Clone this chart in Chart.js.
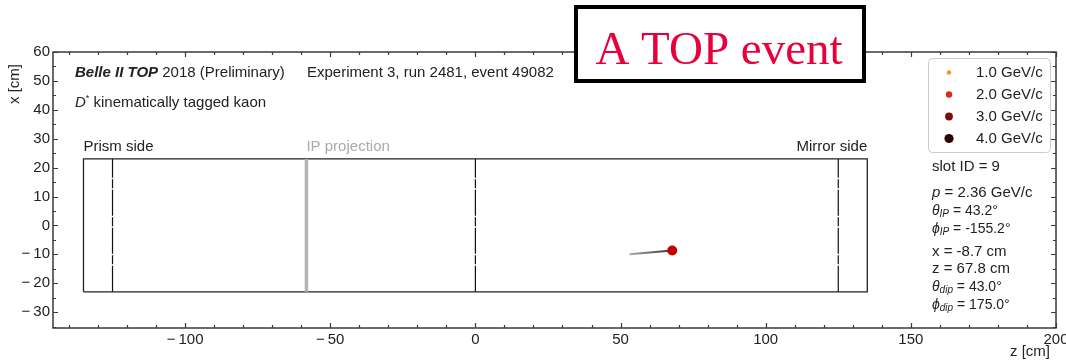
<!DOCTYPE html>
<html>
<head>
<meta charset="utf-8">
<script src="https://cdn.jsdelivr.net/npm/chart.js@4.4.1/dist/chart.umd.min.js"></script>
<style>
  html, body { margin: 0; padding: 0; background: #fff; }
  canvas { display: block; }
</style>
</head>
<body>
<canvas id="c" width="1066" height="361"></canvas>
<script>
// ---- axis ticks ----
const zMajorTicks = [-100, -50, 0, 50, 100, 150, 200];
const zMinorStep = 10;
const xMajorTicks = [-30, -20, -10, 0, 10, 20, 30, 40, 50, 60];
const xMinorStep = 5;

// ---- TOP module (quartz bar) geometry, cm ----
const barZ = [-135, 135];
const barX = [-23, 23];
const jointZ = [-125, 0, 125];
const ipProjectionZ = -58.2;

// ---- reconstructed track and hit ----
const trackZ = [53.1, 67.8];
const trackX = [-10.0, -8.7];
const hitZ = [67.8];
const hitX = [-8.7];

// ---- momentum legend ----
const legendMomenta = [1.0, 2.0, 3.0, 4.0];
const legendColors = ['#ff8f1f', '#e0261a', '#7f0a0a', '#2b0505'];

// ---- event info ----
const slotId = 9;
const momentum = 2.36;
const thetaIP = 43.2;
const phiIP = -155.2;
const hitXcm = -8.7;
const hitZcm = 67.8;
const thetaDip = 43.0;
const phiDip = 175.0;

const SANS = '"Liberation Sans", Arial, Helvetica, sans-serif';
const SERIF = '"Liberation Serif", "Times New Roman", serif';
const INK = '#222';

function pts(zs, xs) { return zs.map((z, i) => ({ x: z, y: xs[i] })); }

const datasets = [];
// bar outline
datasets.push({
  data: pts([barZ[0], barZ[1], barZ[1], barZ[0], barZ[0]], [barX[0], barX[0], barX[1], barX[1], barX[0]]),
  showLine: true, borderColor: '#222', borderWidth: 1.3, pointRadius: 0, order: 5
});
// glue joints between bar segments
jointZ.forEach(z => datasets.push({
  data: pts([z, z], barX),
  showLine: true, borderColor: '#111', borderWidth: 1.2, borderDash: [26, 1.5, 9, 1.5],
  pointRadius: 0, order: 4
}));
// IP projection
datasets.push({
  data: pts([ipProjectionZ, ipProjectionZ], barX),
  showLine: true, borderColor: '#b4b4b4', borderWidth: 3.5, pointRadius: 0, order: 3
});
// track
datasets.push({
  data: pts(trackZ, trackX),
  showLine: true, borderWidth: 2, pointRadius: 0, order: 2,
  borderColor: (c) => {
    const ch = c.chart;
    if (!ch.chartArea) return '#777';
    const xs = ch.scales.x;
    const g = ch.ctx.createLinearGradient(xs.getPixelForValue(trackZ[0]), 0, xs.getPixelForValue(trackZ[1]), 0);
    g.addColorStop(0, '#a8a8a8');
    g.addColorStop(1, '#333333');
    return g;
  }
});
// hit
datasets.push({
  data: pts(hitZ, hitX),
  showLine: false, pointRadius: 5, pointBackgroundColor: '#c40000',
  pointBorderColor: '#c40000', pointBorderWidth: 0, order: 1
});

function fmt(v) { return v < 0 ? '\u2212\u2009' + Math.abs(v) : String(v); }

// draw a sequence of styled text runs starting at x
function runs(ctx, x, y, parts, align) {
  ctx.textBaseline = 'middle';
  ctx.textAlign = 'left';
  let w = 0;
  parts.forEach(p => { ctx.font = p.font; w += ctx.measureText(p.t).width; });
  let cx = align === 'right' ? x - w : x;
  parts.forEach(p => {
    ctx.font = p.font;
    ctx.fillStyle = p.color || INK;
    ctx.fillText(p.t, cx, y + (p.dy || 0));
    cx += ctx.measureText(p.t).width;
  });
}

const framePlugin = {
  id: 'frame',
  afterDraw(chart) {
    const ctx = chart.ctx;
    const a = chart.chartArea;
    const xs = chart.scales.x, ys = chart.scales.y;
    ctx.save();

    // frame
    ctx.strokeStyle = '#3a3a3a';
    ctx.lineWidth = 1.5;
    ctx.strokeRect(a.left, a.top, a.right - a.left, a.bottom - a.top);

    // ticks on all four sides, pointing inward
    ctx.lineWidth = 1.2;
    ctx.beginPath();
    for (let v = Math.ceil(xs.min / zMinorStep) * zMinorStep; v <= xs.max; v += zMinorStep) {
      const len = zMajorTicks.includes(v) ? 5 : 3;
      const px = Math.round(xs.getPixelForValue(v)) + 0.5;
      ctx.moveTo(px, a.bottom); ctx.lineTo(px, a.bottom - len);
      ctx.moveTo(px, a.top); ctx.lineTo(px, a.top + len);
    }
    for (let v = Math.ceil(ys.min / xMinorStep) * xMinorStep; v <= ys.max; v += xMinorStep) {
      const len = xMajorTicks.includes(v) ? 5 : 3;
      const py = Math.round(ys.getPixelForValue(v)) + 0.5;
      ctx.moveTo(a.left, py); ctx.lineTo(a.left + len, py);
      ctx.moveTo(a.right, py); ctx.lineTo(a.right - len, py);
    }
    ctx.stroke();

    // tick labels
    ctx.fillStyle = INK;
    ctx.font = '15px ' + SANS;
    ctx.textBaseline = 'middle';
    ctx.textAlign = 'center';
    zMajorTicks.forEach(v => ctx.fillText(fmt(v), xs.getPixelForValue(v), a.bottom + 12));
    ctx.textAlign = 'right';
    xMajorTicks.forEach(v => ctx.fillText(fmt(v), a.left - 3, ys.getPixelForValue(v)));

    // axis titles
    ctx.font = '15px ' + SANS;
    ctx.textAlign = 'center';
    ctx.fillText('z [cm]', 1030, 352);
    ctx.save();
    ctx.translate(15, 84);
    ctx.rotate(-Math.PI / 2);
    ctx.fillText('x [cm]', 0, 0);
    ctx.restore();

    // header annotations
    const f = (s) => s + ' 15px ' + SANS;
    runs(ctx, 75, 73, [
      { t: 'Belle II TOP', font: f('italic bold') },
      { t: ' 2018 (Preliminary)', font: f('') }
    ]);
    runs(ctx, 307, 73, [{ t: 'Experiment 3, run 2481, event 49082', font: f('') }]);
    runs(ctx, 75, 103, [
      { t: 'D', font: f('italic') },
      { t: '*', font: '9px ' + SANS, dy: -4 },
      { t: ' kinematically tagged kaon', font: f('') }
    ]);

    // bar end labels
    const bl = xs.getPixelForValue(barZ[0]);
    const br = xs.getPixelForValue(barZ[1]);
    const labY = ys.getPixelForValue(barX[1]) - 12;
    runs(ctx, bl, labY, [{ t: 'Prism side', font: f('') }]);
    runs(ctx, xs.getPixelForValue(ipProjectionZ), labY, [{ t: 'IP projection', font: f(''), color: '#aaaaaa' }]);
    runs(ctx, br, labY, [{ t: 'Mirror side', font: f('') }], 'right');

    // momentum legend
    const lx = 928, ly = 58, lw = 122, lh = 94;
    ctx.strokeStyle = '#cccccc';
    ctx.lineWidth = 1;
    ctx.beginPath();
    ctx.roundRect(lx + 0.5, ly + 0.5, lw, lh, 4);
    ctx.stroke();
    const radii = [2.2, 3.2, 3.9, 4.6];
    legendMomenta.forEach((p, i) => {
      const y = 72.5 + i * 22;
      ctx.fillStyle = legendColors[i];
      ctx.beginPath();
      ctx.arc(949, y, radii[i], 0, Math.PI * 2);
      ctx.fill();
      runs(ctx, 976, y, [{ t: p.toFixed(1) + ' GeV/c', font: f('') }]);
    });

    // event information
    const ix = 932;
    const g = '14px ' + SANS, gi = 'italic 14px ' + SANS, sub = 'italic 10px ' + SANS;
    runs(ctx, ix, 167, [{ t: 'slot ID = ' + slotId, font: f('') }]);
    runs(ctx, ix, 193, [{ t: 'p', font: f('italic') }, { t: ' = ' + momentum.toFixed(2) + ' GeV/c', font: f('') }]);
    runs(ctx, ix, 211, [{ t: '\u03b8', font: gi }, { t: 'IP', font: sub, dy: 3 }, { t: ' = ' + thetaIP.toFixed(1) + '\u00b0', font: g }]);
    runs(ctx, ix, 229, [{ t: '\u03d5', font: gi }, { t: 'IP', font: sub, dy: 3 }, { t: ' = ' + phiIP.toFixed(1) + '\u00b0', font: g }]);
    runs(ctx, ix, 252, [{ t: 'x = ' + hitXcm.toFixed(1) + ' cm', font: f('') }]);
    runs(ctx, ix, 269, [{ t: 'z = ' + hitZcm.toFixed(1) + ' cm', font: f('') }]);
    runs(ctx, ix, 287, [{ t: '\u03b8', font: gi }, { t: 'dip', font: sub, dy: 3 }, { t: ' = ' + thetaDip.toFixed(1) + '\u00b0', font: g }]);
    runs(ctx, ix, 305, [{ t: '\u03d5', font: gi }, { t: 'dip', font: sub, dy: 3 }, { t: ' = ' + phiDip.toFixed(1) + '\u00b0', font: g }]);

    // headline box
    ctx.fillStyle = '#fff';
    ctx.fillRect(576, 7, 288, 74);
    ctx.strokeStyle = '#000';
    ctx.lineWidth = 4;
    ctx.strokeRect(576, 7, 288, 74);
    ctx.fillStyle = '#e8003d';
    ctx.font = '47px ' + SERIF;
    ctx.textAlign = 'center';
    ctx.textBaseline = 'alphabetic';
    ctx.fillText('A TOP event', 719, 64);

    ctx.restore();
  }
};

new Chart(document.getElementById('c'), {
  type: 'scatter',
  data: { datasets },
  options: {
    responsive: false,
    animation: false,
    devicePixelRatio: 1,
    layout: { padding: { left: 53, right: 10, top: 52, bottom: 33 } },
    elements: { line: { tension: 0, fill: false } },
    scales: {
      x: { type: 'linear', min: -145.5, max: 200, display: false },
      y: { type: 'linear', min: -35.5, max: 60, display: false }
    },
    plugins: { legend: { display: false }, tooltip: { enabled: false } }
  },
  plugins: [framePlugin]
});
</script>
</body>
</html>
